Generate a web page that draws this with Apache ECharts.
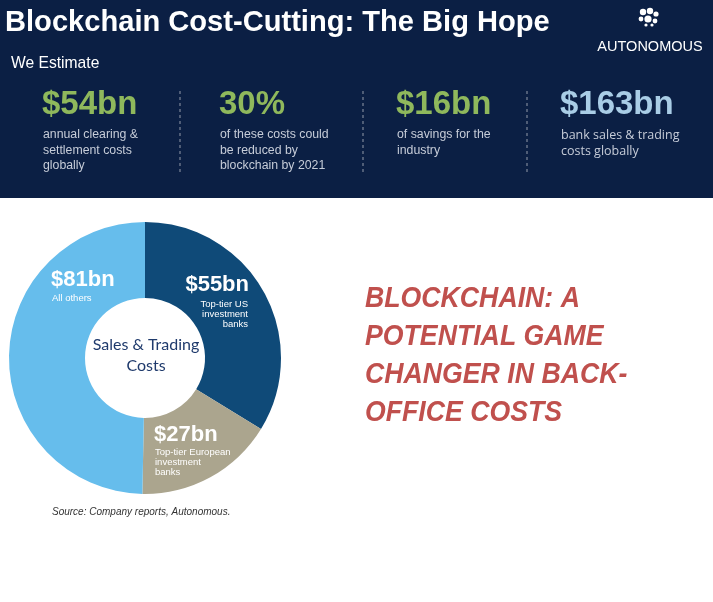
<!DOCTYPE html>
<html>
<head>
<meta charset="utf-8">
<script src="https://cdn.jsdelivr.net/npm/echarts@6/dist/echarts.min.js"></script>
<style>
html,body{margin:0;padding:0;background:#fff;}
#c{width:713px;height:602px;}
</style>
</head>
<body>
<div id="c"></div>
<script>
// ---- data ----
const sliceNames = ['Top-tier US investment banks', 'Top-tier European investment banks', 'All others'];
const sliceValues = [55, 27, 81];
const sliceSubLabels = [['Top-tier US', 'investment', 'banks'], ['Top-tier European', 'investment', 'banks'], ['All others']];
const estimateValues = ['$54bn', '30%', '$16bn', '$163bn'];
const estimateTexts = [
  ['annual clearing &', 'settlement costs', 'globally'],
  ['of these costs could', 'be reduced by', 'blockchain by 2021'],
  ['of savings for the', 'industry'],
  ['bank sales & trading', 'costs globally']
];
const titleText = 'Blockchain Cost-Cutting: The Big Hope';
const headlineLines = ['BLOCKCHAIN: A', 'POTENTIAL GAME', 'CHANGER IN BACK-', 'OFFICE COSTS'];

const sliceColors = ['#0f4a78', '#aba58e', '#66bdec'];
const NAVY = '#0b1f44';
const sans = '"Liberation Sans", Arial, sans-serif';

const chart = echarts.init(document.getElementById('c'), null, {renderer: 'canvas'});

const g = [];
g.push({type: 'rect', shape: {x: 0, y: 0, width: 713, height: 198}, style: {fill: NAVY}, z: 0});
g.push({type: 'text', x: 5, y: 8, scaleX: 0.97, style: {text: titleText, fill: '#fff', font: 'bold 30px ' + sans}, z: 2});
g.push({type: 'text', x: 11, y: 55, scaleX: 0.92, style: {text: 'We Estimate', fill: '#fff', font: '17px ' + sans}, z: 2});
// logo
const dots = [[643, 12, 3.2], [650, 11, 3.2], [656, 14, 2.6], [641, 19, 2.4], [648, 19, 3.6], [655, 21, 2.4], [646, 25, 1.6], [652, 25, 1.6]];
dots.forEach(d => g.push({type: 'circle', shape: {cx: d[0], cy: d[1], r: d[2]}, style: {fill: '#ffffff'}, z: 2}));
g.push({type: 'text', x: 650, y: 47, style: {text: 'AUTONOMOUS', fill: '#fff', font: '14.5px ' + sans, align: 'center', verticalAlign: 'middle'}, z: 2});

const colX = [43, 220, 397, 561];
const numColors = ['#8fb85c', '#8fb85c', '#8fb85c', '#a9cde6'];
estimateValues.forEach((v, i) => {
  g.push({type: 'text', x: colX[i] - 1, y: 88, scaleX: 0.97, style: {text: v, fill: numColors[i], font: 'bold 34px ' + sans}, z: 2});
  estimateTexts[i].forEach((t, j) => {
    g.push({type: 'text', x: colX[i], y: 129 + j * 15.5, style: {text: t, fill: '#c6ccd8', font: (i === 3 ? '12.5px "Open Sans", sans-serif' : '12.3px ' + sans)}, z: 2});
  });
});
[180, 363, 527].forEach(x => g.push({type: 'line', shape: {x1: x, y1: 91, x2: x, y2: 173}, style: {stroke: '#7d8698', lineWidth: 1.2, lineDash: [3, 3]}, z: 2}));

// headline
headlineLines.forEach((t, i) => {
  g.push({type: 'text', x: 365, y: 284 + i * 38.3, scaleX: 0.92, style: {text: t, fill: '#c0504d', font: 'italic bold 29px ' + sans}, z: 2});
});

// donut center text
g.push({type: 'text', x: 146, y: 345, style: {text: 'Sales & Trading', fill: '#1f3a6c', font: '16px Lato, sans-serif', align: 'center', verticalAlign: 'middle'}, z: 5});
g.push({type: 'text', x: 146, y: 366, style: {text: 'Costs', fill: '#1f3a6c', font: '16px Lato, sans-serif', align: 'center', verticalAlign: 'middle'}, z: 5});

// slice labels
const lblFont = 'bold 22px ' + sans;
const subFont = '9.5px ' + sans;
// US (index 0) right aligned
g.push({type: 'text', x: 249, y: 285, style: {text: '$' + sliceValues[0] + 'bn', fill: '#fff', font: lblFont, align: 'right', verticalAlign: 'middle'}, z: 5});
sliceSubLabels[0].forEach((t, j) => g.push({type: 'text', x: 248, y: 304 + j * 10, style: {text: t, fill: '#fff', font: subFont, align: 'right', verticalAlign: 'middle'}, z: 5}));
// European (index 1) left aligned
g.push({type: 'text', x: 154, y: 435, style: {text: '$' + sliceValues[1] + 'bn', fill: '#fff', font: lblFont, align: 'left', verticalAlign: 'middle'}, z: 5});
sliceSubLabels[1].forEach((t, j) => g.push({type: 'text', x: 155, y: 452 + j * 10, style: {text: t, fill: '#fff', font: subFont, align: 'left', verticalAlign: 'middle'}, z: 5}));
// Others (index 2)
g.push({type: 'text', x: 51, y: 280, style: {text: '$' + sliceValues[2] + 'bn', fill: '#fff', font: lblFont, align: 'left', verticalAlign: 'middle'}, z: 5});
sliceSubLabels[2].forEach((t, j) => g.push({type: 'text', x: 52, y: 298 + j * 10, style: {text: t, fill: '#fff', font: subFont, align: 'left', verticalAlign: 'middle'}, z: 5}));

// source
g.push({type: 'text', x: 52, y: 512, style: {text: 'Source: Company reports, Autonomous.', fill: '#333', font: 'italic 10px ' + sans, verticalAlign: 'middle'}, z: 2});

chart.setOption({
  animation: false,
  backgroundColor: '#ffffff',
  graphic: {elements: g},
  series: [{
    type: 'pie',
    center: [145, 358],
    radius: [60, 136],
    startAngle: 90,
    clockwise: true,
    label: {show: false},
    labelLine: {show: false},
    silent: true,
    z: 3,
    data: sliceNames.map((n, i) => ({name: n, value: sliceValues[i], itemStyle: {color: sliceColors[i]}}))
  }]
});
</script>
</body>
</html>
